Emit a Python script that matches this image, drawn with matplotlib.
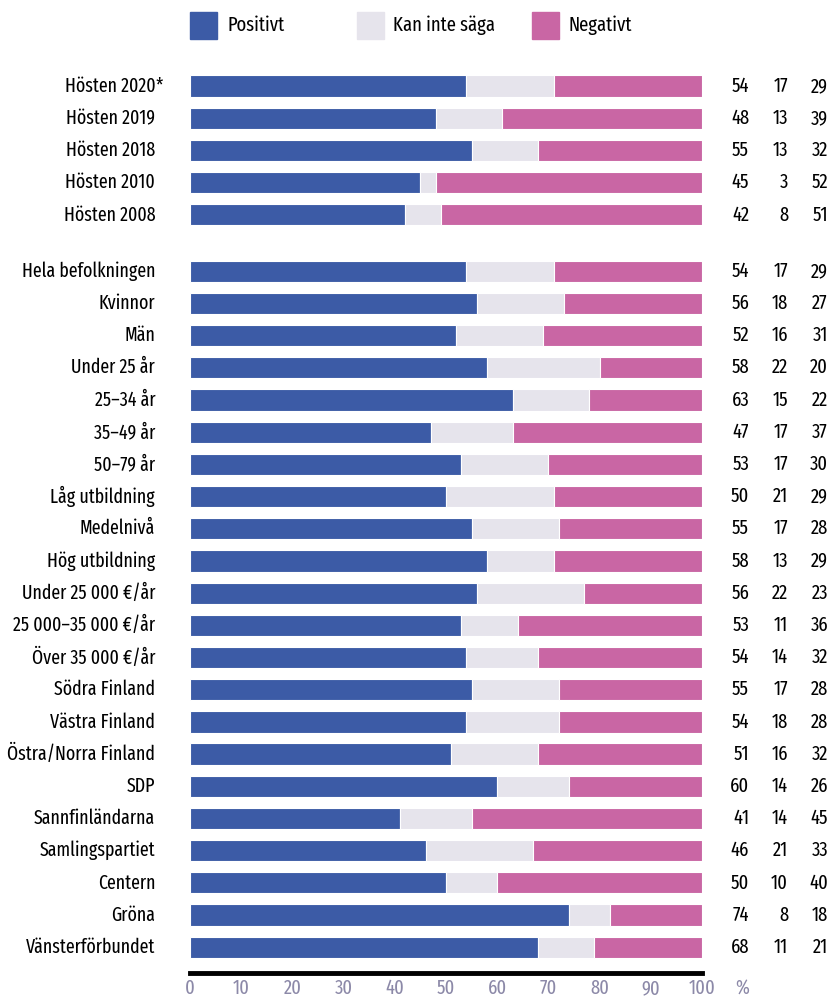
import matplotlib
matplotlib.use("Agg")
import matplotlib.pyplot as plt
from matplotlib.patches import Rectangle

plt.rcParams['font.family'] = ['Fira Sans Extra Condensed', 'DejaVu Sans']

labels = ['Hösten 2020*', 'Hösten 2019', 'Hösten 2018', 'Hösten 2010', 'Hösten 2008',
          'Hela befolkningen', 'Kvinnor', 'Män', 'Under 25 år', '25–34 år', '35–49 år',
          '50–79 år', 'Låg utbildning', 'Medelnivå', 'Hög utbildning',
          'Under 25 000 €/år', '25 000–35 000 €/år', 'Över 35 000 €/år',
          'Södra Finland', 'Västra Finland', 'Östra/Norra Finland',
          'SDP', 'Sannfinländarna', 'Samlingspartiet', 'Centern', 'Gröna',
          'Vänsterförbundet']
positivt = [54, 48, 55, 45, 42, 54, 56, 52, 58, 63, 47, 53, 50, 55, 58, 56, 53, 54,
            55, 54, 51, 60, 41, 46, 50, 74, 68]
kan_inte = [17, 13, 13, 3, 8, 17, 18, 16, 22, 15, 17, 17, 21, 17, 13, 22, 11, 14,
            17, 18, 16, 14, 14, 21, 10, 8, 11]
negativt = [29, 39, 32, 52, 51, 29, 27, 31, 20, 22, 37, 30, 29, 28, 29, 23, 36, 32,
            28, 28, 32, 26, 45, 33, 40, 18, 21]

legend_names = ['Positivt', 'Kan inte säga', 'Negativt']
colors = ['#3c5ba6', '#e6e4ec', '#c966a4']
tick_color = '#8c89a8'
fs = 14

# two groups: first five rows, then a gap
ypos = [i if i < 5 else i + 0.75 for i in range(len(labels))]

fig = plt.figure(figsize=(8.3, 9.98), dpi=100)
ax = fig.add_axes([190 / 830, 25 / 998, 512 / 830, 903 / 998])

# rounded shares don't always add to 100, the source bars always fill the row:
# negative is anchored at 100, "kan inte säga" fills what is between
h = 0.66
neg_left = [100 - n for n in negativt]
mid_w = [nl - p for nl, p in zip(neg_left, positivt)]
ax.barh(ypos, positivt, height=h, color=colors[0], edgecolor='white', linewidth=0.8)
ax.barh(ypos, mid_w, left=positivt, height=h, color=colors[1], edgecolor='white', linewidth=0.8)
ax.barh(ypos, negativt, left=neg_left, height=h, color=colors[2], edgecolor='white', linewidth=0.8)

ax.set_xlim(0, 100)
ax.set_ylim(27.55, -0.5)
ax.set_yticks([])
ax.set_xticks(range(0, 101, 10))
ax.tick_params(axis='x', length=0, pad=4, labelsize=fs + 0.5, labelcolor=tick_color)
for s in ['top', 'right', 'left']:
    ax.spines[s].set_visible(False)
ax.spines['bottom'].set_linewidth(3.5)
ax.spines['bottom'].set_color('black')
ax.annotate('%', xy=(1.078, 0), xycoords='axes fraction', xytext=(0, -4),
            textcoords='offset points', ha='center', va='top', fontsize=fs + 0.5,
            color=tick_color)

tr = ax.get_yaxis_transform()
for y, lab in zip(ypos, labels):
    if lab.endswith('*'):
        ax.text(-0.068, y, lab[:-1], transform=tr, ha='right', va='center', fontsize=fs)
        ax.text(-0.068, y, '*', transform=tr, ha='left', va='center', fontsize=fs)
    else:
        ax.text(-0.068, y, lab, transform=tr, ha='right', va='center', fontsize=fs)

for y, a, b, c in zip(ypos, positivt, kan_inte, negativt):
    for xx, v in zip([1.092, 1.168, 1.246], [a, b, c]):
        ax.text(xx, y, str(v), transform=tr, ha='right', va='center', fontsize=fs + 0.5)

# legend along the top
for x0, x1, name, col in zip([190, 357, 532], [227, 393, 568], legend_names, colors):
    fig.patches.append(Rectangle((x0 / 830, 1 - 39 / 998), 27 / 830, 27 / 998,
                                 transform=fig.transFigure, color=col))
    fig.text(x1 / 830, 1 - 25 / 998, name, ha='left', va='center', fontsize=fs + 0.5)

fig.savefig('out.png', dpi=100)
